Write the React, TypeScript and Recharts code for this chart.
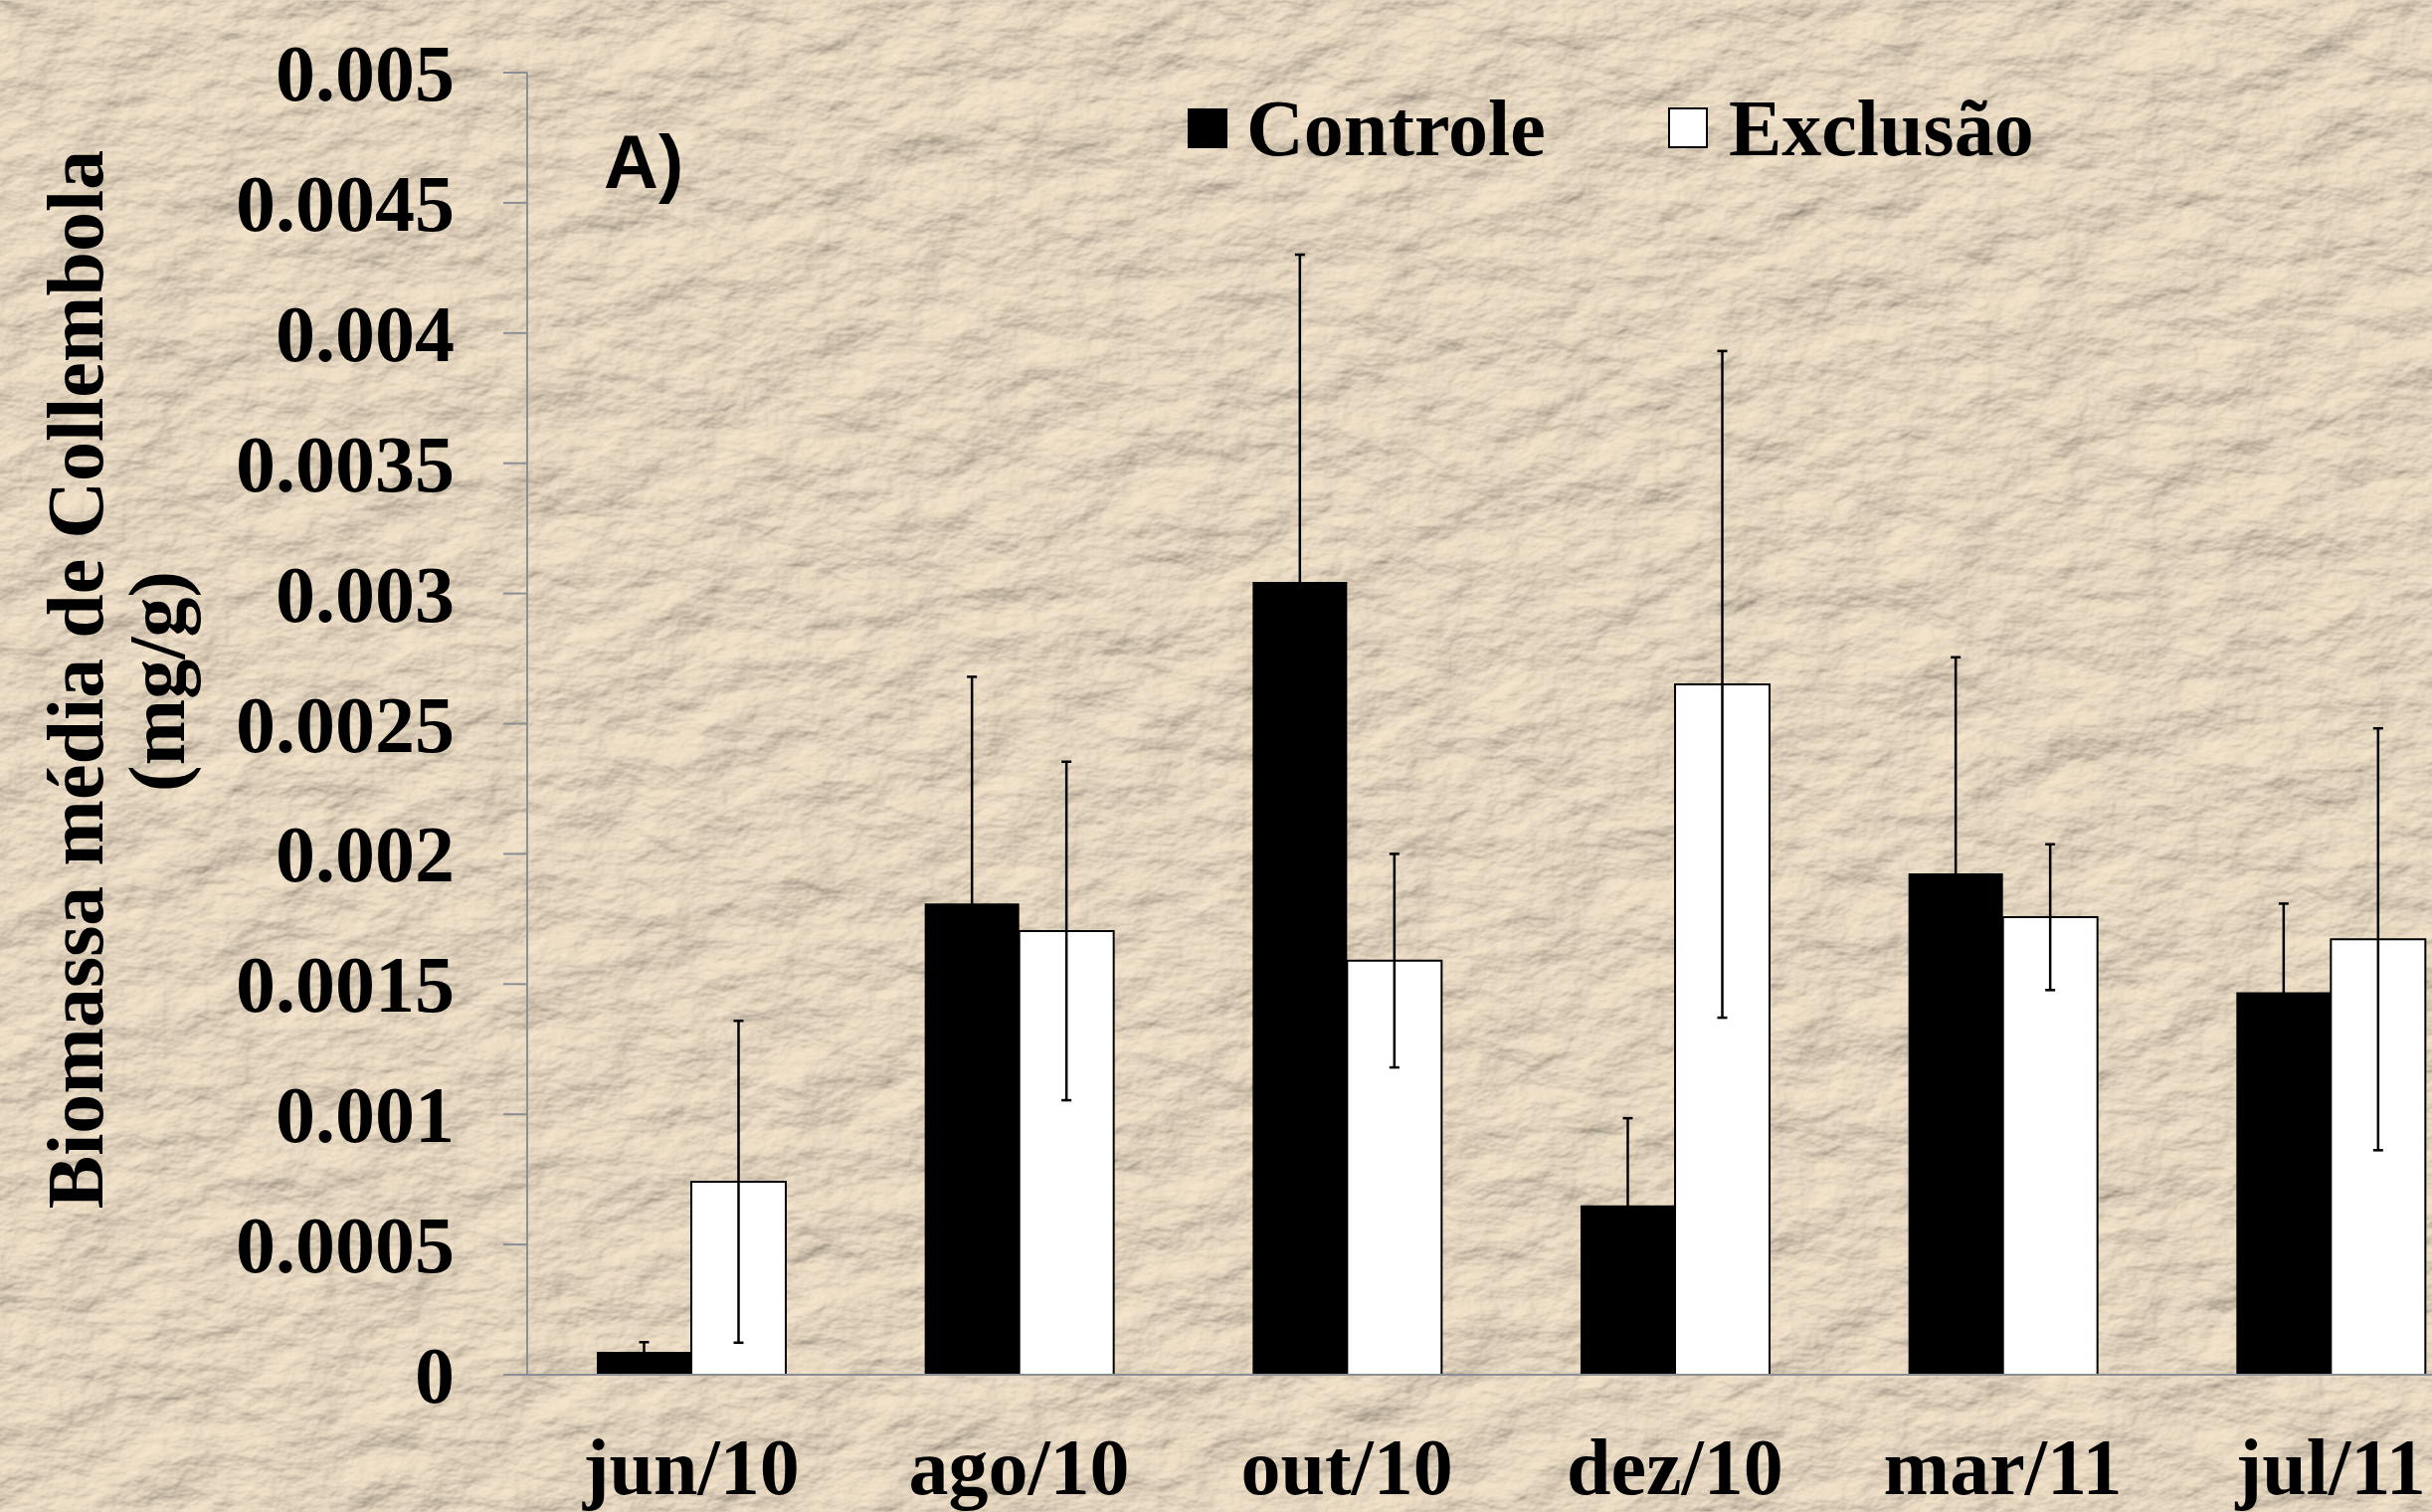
import React from "react";
import { Bar, BarChart, ErrorBar, Label, Legend, XAxis, YAxis } from "recharts";

// values (mg/g)
const months = ["jun/10", "ago/10", "out/10", "dez/10", "mar/11", "jul/11"];
const controle = [0.000088, 0.00181, 0.003044, 0.00065, 0.001925, 0.001469];
const controleErr = [0.000037, 0.00087, 0.001257, 0.000335, 0.00083, 0.00034];
const exclusao = [0.000741, 0.001704, 0.00159, 0.002651, 0.001757, 0.001672];
const exclusaoErr = [0.000618, 0.00065, 0.00041, 0.00128, 0.00028, 0.00081];
const yTicks = [0, 0.0005, 0.001, 0.0015, 0.002, 0.0025, 0.003, 0.0035, 0.004, 0.0045, 0.005];
const bandTicks = [0, 1, 2, 3, 4, 5, 6];

const data = months.map((month, i) => ({
  month,
  controle: controle[i],
  controleErr: controleErr[i],
  exclusao: exclusao[i],
  exclusaoErr: exclusaoErr[i],
}));

const SERIF = '"Liberation Serif", "Times New Roman", serif';
const AXIS = "#8a8e95";

const YTick = ({ x, y, payload }: any) => (
  <text x={x} y={y} dy={28} textAnchor="end" fontFamily={SERIF} fontWeight="bold" fontSize={80} fill="#000">
    {String(payload.value)}
  </text>
);

const XTick = ({ x, y, payload }: any) => (
  <text x={x} y={y} dy={99} textAnchor="middle" fontFamily={SERIF} fontWeight="bold" fontSize={80} fill="#000">
    {payload.value}
  </text>
);

const AxisTitle = () => (
  <g fontFamily={SERIF} fontWeight="bold" fontSize={80} fill="#000">
    <text x={103} y={683} textAnchor="middle" transform="rotate(-90 103 683)">
      Biomassa média de Collembola
    </text>
    <text x={185} y={685} textAnchor="middle" transform="rotate(-90 185 685)">
      (mg/g)
    </text>
  </g>
);

const LegendBox = () => (
  <div style={{ position: "relative", width: 900, height: 80, fontFamily: SERIF, fontWeight: "bold", fontSize: 80, lineHeight: "80px", color: "#000" }}>
    <div style={{ position: "absolute", left: 0, top: 20, width: 40, height: 40, background: "#000" }} />
    <div style={{ position: "absolute", left: 59, top: 0, whiteSpace: "nowrap" }}>Controle</div>
    <div style={{ position: "absolute", left: 483, top: 19, width: 36, height: 37, background: "#fff", border: "2px solid #000" }} />
    <div style={{ position: "absolute", left: 544, top: 0, whiteSpace: "nowrap" }}>Exclusão</div>
  </div>
);

// crumpled beige paper behind the chart
function Paper() {
  return (
    <svg width={2445} height={1520} style={{ position: "absolute", left: 0, top: 0 }}>
      <filter id="paper" x="0" y="0" width="100%" height="100%">
        <feTurbulence type="fractalNoise" baseFrequency="0.012 0.02" numOctaves={5} seed={7} result="noise" />
        <feDiffuseLighting in="noise" lightingColor="#f4e4cc" surfaceScale={8} diffuseConstant={1}>
          <feDistantLight azimuth={235} elevation={58} />
        </feDiffuseLighting>
      </filter>
      <rect width="100%" height="100%" fill="#d4c6b0" filter="url(#paper)" />
    </svg>
  );
}

export default function App() {
  return (
    <div style={{ position: "fixed", left: 0, top: 0, width: 2445, height: 1520, overflow: "hidden", background: "#d4c6b0" }}>
      <Paper />
      <div style={{ position: "absolute", left: 607, top: 125, fontFamily: '"Liberation Sans", Arial, sans-serif', fontWeight: "bold", fontSize: 76, lineHeight: "76px", color: "#000" }}>
        A)
      </div>
      <div style={{ position: "absolute", left: 0, top: 0 }}>
        <BarChart
          width={2520}
          height={1520}
          data={data}
          margin={{ top: 73, right: 12, left: 0, bottom: 0 }}
          barCategoryGap={70}
          barGap={0}
        >
          <XAxis
            xAxisId="bounds"
            type="number"
            domain={[0, 6]}
            ticks={bandTicks}
            tick={false}
            tickSize={21}
            height={21}
            stroke={AXIS}
            strokeWidth={2}
            axisLine={{ stroke: AXIS, strokeWidth: 2 }}
            tickLine={{ stroke: AXIS, strokeWidth: 2 }}
          />
          <XAxis
            xAxisId="cat"
            dataKey="month"
            axisLine={false}
            tickLine={false}
            tickSize={0}
            tickMargin={0}
            height={117}
            interval={0}
            tick={<XTick />}
          />
          <YAxis
            width={530}
            domain={[0, 0.005]}
            ticks={yTicks}
            interval={0}
            tickSize={24}
            tickMargin={49}
            stroke={AXIS}
            axisLine={{ stroke: AXIS, strokeWidth: 2 }}
            tickLine={{ stroke: AXIS, strokeWidth: 2 }}
            tick={<YTick />}
          >
            <Label content={<AxisTitle />} />
          </YAxis>
          <Legend
            layout="vertical"
            align="center"
            verticalAlign="middle"
            content={<LegendBox />}
            wrapperStyle={{ left: 1194, top: 89, width: 900, height: 80 }}
          />
          <Bar xAxisId="cat" dataKey="controle" name="Controle" fill="#000" isAnimationActive={false}>
            <ErrorBar dataKey="controleErr" width={5} stroke="#000" strokeWidth={2.5} isAnimationActive={false} />
          </Bar>
          <Bar xAxisId="cat" dataKey="exclusao" name="Exclusão" fill="#fff" stroke="#000" strokeWidth={2} isAnimationActive={false}>
            <ErrorBar dataKey="exclusaoErr" width={5} stroke="#000" strokeWidth={2.5} isAnimationActive={false} />
          </Bar>
        </BarChart>
      </div>
    </div>
  );
}
